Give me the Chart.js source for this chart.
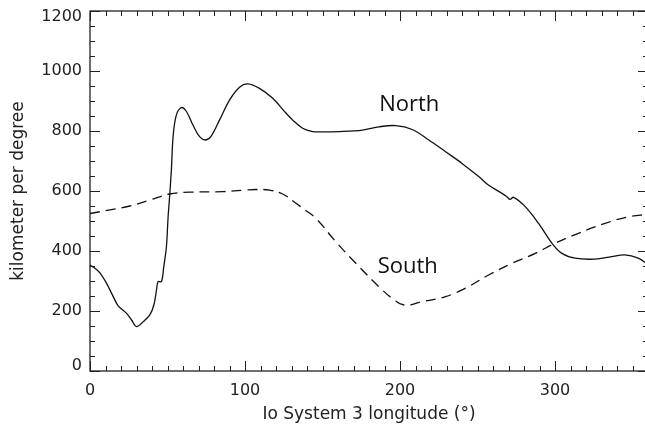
<!DOCTYPE html>
<html>
<head>
<meta charset="utf-8">
<script src="https://cdn.jsdelivr.net/npm/chart.js@4"></script>
<style>
  html, body { margin: 0; padding: 0; background: #fff; overflow: hidden; }
  #wrap { width: 652px; height: 428px; }
</style>
</head>
<body>
<div id="wrap"><canvas id="chart"></canvas></div>
<script>
// Longitude (deg) and kilometer per degree
const northLon = [0, 3, 6.4, 10.7, 15, 18.2, 23.6, 26.8, 30, 34.3, 38.6, 41.2, 42.9, 43.9, 46.1, 47.6, 49.3, 50.4, 51.2, 52.5, 53.6, 55.7, 59, 62.2, 66.4, 70.7, 74.6, 78.2, 83.6, 90, 96.5, 101.8, 109.3, 117.9, 126.5, 130.7, 137.2, 143.6, 150, 160.8, 175.8, 186.5, 197.2, 207.9, 218.6, 229.4, 240, 250.8, 257, 264, 269, 271, 273.3, 280.8, 289.4, 298, 304.4, 313, 325.8, 336.5, 345, 353.7, 360];
const northVal = [353, 343, 327, 292, 248, 217, 192, 170, 148, 164, 187, 220, 270, 298, 298, 348, 414, 515, 570, 670, 781, 853, 878, 865, 820, 781, 770, 783, 837, 903, 946, 957, 942, 909, 859, 837, 809, 798, 797, 798, 803, 814, 818, 805, 770, 731, 692, 648, 620, 598, 581, 572, 579, 548, 492, 426, 392, 376, 373, 381, 387, 376, 355];

const southLon = [0, 12.9, 25.7, 38.6, 51.4, 64.3, 85.7, 100, 107.2, 115.8, 124.3, 132.9, 139, 145.7, 158.6, 171.5, 187, 195, 202.6, 214.3, 229.4, 242.3, 257.2, 272.2, 287.3, 300.1, 315.1, 332.3, 347.3, 360];
const southVal = [525, 537, 550, 570, 590, 596, 598, 603, 605, 603, 590, 559, 536, 509, 431, 359, 278, 242, 220, 231, 248, 276, 320, 359, 392, 426, 459, 492, 514, 522];

const xTickLabels = [0, 100, 200, 300];
const yTickLabels = [0, 200, 400, 600, 800, 1000, 1200];

// curve names placed in data units
const curveNames = ['North', 'South'];
const nameLon = [206, 205];
const nameVal = [887, 347];

const ink = '#111';
const axisFont = '"DejaVu Sans", sans-serif';

function toPoints(xs, ys) {
  return xs.map((x, i) => ({ x: x, y: ys[i] }));
}

// IDL style box: inward ticks on all four sides, custom y labels, curve names
const framePlugin = {
  id: 'frame',
  afterDraw(chart) {
    const { ctx, chartArea: a, scales } = chart;
    const xs = scales.x, ys = scales.y;
    ctx.save();
    ctx.strokeStyle = '#222';
    ctx.lineWidth = 1.3;
    ctx.strokeRect(a.left, a.top, a.right - a.left, a.bottom - a.top);

    ctx.lineWidth = 1;
    ctx.beginPath();
    for (let v = 0; v <= 360; v += 10) {
      const px = Math.round(xs.getPixelForValue(v)) + 0.5;
      const len = v % 100 === 0 ? 10 : 5;
      ctx.moveTo(px, a.bottom); ctx.lineTo(px, a.bottom - len);
      ctx.moveTo(px, a.top); ctx.lineTo(px, a.top + len);
    }
    for (let v = 0; v <= 1200; v += 50) {
      const py = Math.round(ys.getPixelForValue(v)) + 0.5;
      const len = v % 200 === 0 ? 10 : 5;
      ctx.moveTo(a.left, py); ctx.lineTo(a.left + len, py);
      ctx.moveTo(a.right, py); ctx.lineTo(a.right - len, py);
    }
    ctx.stroke();

    ctx.fillStyle = '#222';
    ctx.font = '16px ' + axisFont;
    ctx.textAlign = 'right';
    ctx.textBaseline = 'middle';
    yTickLabels.forEach(v => {
      let py = ys.getPixelForValue(v);
      py = Math.min(Math.max(py, a.top + 6), a.bottom - 5);
      ctx.fillText(String(v), a.left - 8, py);
    });

    ctx.fillStyle = ink;
    ctx.font = '22px "Open Sans", sans-serif';
    ctx.textAlign = 'center';
    curveNames.forEach((name, i) => {
      ctx.fillText(name, xs.getPixelForValue(nameLon[i]), ys.getPixelForValue(nameVal[i]));
    });
    ctx.restore();
  }
};

new Chart(document.getElementById('chart'), {
  type: 'line',
  data: {
    datasets: [{
      label: 'North',
      data: toPoints(northLon, northVal),
      borderColor: ink,
      borderWidth: 1.3,
      pointRadius: 0,
      tension: 0.35
    }, {
      label: 'South',
      data: toPoints(southLon, southVal),
      borderColor: ink,
      borderWidth: 1.3,
      borderDash: [10, 6],
      pointRadius: 0,
      tension: 0.4
    }]
  },
  options: {
    responsive: true,
    maintainAspectRatio: false,
    animation: false,
    layout: { padding: { top: 11, right: 4, left: 0, bottom: 0 } },
    plugins: { legend: { display: false }, tooltip: { enabled: false } },
    scales: {
      x: {
        type: 'linear',
        min: 0,
        max: 360,
        grid: { display: false, drawTicks: false },
        border: { display: false },
        afterBuildTicks: s => { s.ticks = xTickLabels.map(v => ({ value: v })); },
        afterFit: s => { s.height = 57; },
        ticks: {
          color: '#222',
          padding: 10,
          autoSkip: false,
          maxRotation: 0,
          font: { family: axisFont, size: 16 }
        },
        title: {
          display: true,
          text: 'Io System 3 longitude (°)',
          color: '#222',
          padding: { top: 0, bottom: 3 },
          font: { family: axisFont, size: 17 }
        }
      },
      y: {
        type: 'linear',
        min: 0,
        max: 1200,
        grid: { display: false, drawTicks: false },
        border: { display: false },
        afterFit: s => { s.width = 90; },
        ticks: { display: false, stepSize: 200 },
        title: {
          display: true,
          text: 'kilometer per degree',
          color: '#222',
          padding: { top: 8, bottom: 0 },
          font: { family: axisFont, size: 17 }
        }
      }
    }
  },
  plugins: [framePlugin]
});
</script>
</body>
</html>
